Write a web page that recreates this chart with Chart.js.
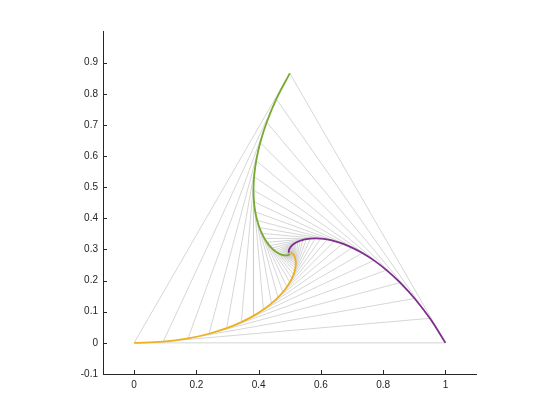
<!DOCTYPE html>
<html lang="en">
<head>
    <meta charset="UTF-8">
    <title>Pursuit curves</title>
    <script src="https://cdn.jsdelivr.net/npm/chart.js"></script>
    <style>
        body { margin: 0; background: #fff; }
        #grafico { display: block; }
    </style>
</head>
<body>
<canvas id="grafico" width="560" height="420"></canvas>
<script>
    // positions of the three bugs, one entry per gray triangle (every 5 degrees of turn)
    const orangeX = [0, 0.0934, 0.1731, 0.2406, 0.2973, 0.3445, 0.3834, 0.4153, 0.4411, 0.4617, 0.4779, 0.4905, 0.5000,
        0.5071, 0.5121, 0.5155, 0.5176, 0.5187, 0.5190, 0.5187, 0.5181, 0.5171, 0.5159, 0.5146, 0.5133, 0.5120,
        0.5107, 0.5094, 0.5083, 0.5072, 0.5062, 0.5053, 0.5045, 0.5038, 0.5032, 0.5026, 0.5022];
    const orangeY = [0, 0.0040, 0.0144, 0.0293, 0.0471, 0.0666, 0.0868, 0.1070, 0.1268, 0.1456, 0.1633, 0.1796, 0.1946,
        0.2081, 0.2202, 0.2309, 0.2404, 0.2486, 0.2558, 0.2619, 0.2672, 0.2716, 0.2753, 0.2784, 0.2810, 0.2831,
        0.2848, 0.2862, 0.2872, 0.2881, 0.2887, 0.2891, 0.2895, 0.2897, 0.2898, 0.2899, 0.2899];
    const purpleX = [1, 0.9499, 0.9010, 0.8544, 0.8106, 0.7701, 0.7331, 0.6997, 0.6697, 0.6431, 0.6197, 0.5992, 0.5815,
        0.5663, 0.5533, 0.5423, 0.5331, 0.5254, 0.5190, 0.5138, 0.5096, 0.5063, 0.5036, 0.5016, 0.5000, 0.4988,
        0.4980, 0.4975, 0.4971, 0.4970, 0.4969, 0.4969, 0.4971, 0.4972, 0.4974, 0.4976, 0.4978];
    const purpleY = [0, 0.0789, 0.1427, 0.1937, 0.2339, 0.2650, 0.2887, 0.3061, 0.3186, 0.3270, 0.3322, 0.3350, 0.3357,
        0.3351, 0.3334, 0.3310, 0.3281, 0.3249, 0.3216, 0.3183, 0.3151, 0.3120, 0.3091, 0.3065, 0.3040, 0.3018,
        0.2999, 0.2981, 0.2966, 0.2952, 0.2941, 0.2931, 0.2922, 0.2915, 0.2909, 0.2904, 0.2899];
    const greenX = [0.5, 0.4567, 0.4259, 0.4050, 0.3921, 0.3854, 0.3834, 0.3850, 0.3892, 0.3953, 0.4024, 0.4103, 0.4185,
        0.4267, 0.4346, 0.4422, 0.4494, 0.4560, 0.4620, 0.4674, 0.4723, 0.4767, 0.4805, 0.4838, 0.4867, 0.4892,
        0.4913, 0.4931, 0.4946, 0.4959, 0.4969, 0.4977, 0.4984, 0.4990, 0.4994, 0.4997, 0.5000];
    const greenY = [0.8660, 0.7832, 0.7089, 0.6431, 0.5851, 0.5344, 0.4906, 0.4529, 0.4207, 0.3934, 0.3705, 0.3515, 0.3357,
        0.3229, 0.3125, 0.3042, 0.2976, 0.2925, 0.2887, 0.2858, 0.2838, 0.2824, 0.2816, 0.2811, 0.2810, 0.2811,
        0.2814, 0.2818, 0.2822, 0.2828, 0.2833, 0.2839, 0.2844, 0.2849, 0.2853, 0.2858, 0.2862];

    const xTicks = [0, 0.2, 0.4, 0.6, 0.8, 1];
    const yTicks = [-0.1, 0, 0.1, 0.2, 0.3, 0.4, 0.5, 0.6, 0.7, 0.8, 0.9];

    const corEixo = '#262626';
    const fonte = { family: "'Liberation Sans', Arial, Helvetica, sans-serif", size: 10 };

    function pontos(xs, ys) {
        return xs.map((x, i) => ({ x: x, y: ys[i] }));
    }

    function curva(xs, ys, cor) {
        return {
            data: pontos(xs, ys),
            showLine: true,
            borderColor: cor,
            borderWidth: 1.8,
            pointRadius: 0,
            tension: 0.4,
            order: 0
        };
    }

    const datasets = [
        curva(orangeX, orangeY, '#EDB120'),
        curva(purpleX, purpleY, '#7E2F8E'),
        curva(greenX, greenY, '#77AC30')
    ];

    // gray triangles joining the bugs at the same instant
    for (let k = 0; k < orangeX.length; k++) {
        datasets.push({
            data: [
                { x: orangeX[k], y: orangeY[k] },
                { x: purpleX[k], y: purpleY[k] },
                { x: greenX[k], y: greenY[k] },
                { x: orangeX[k], y: orangeY[k] }
            ],
            showLine: true,
            borderColor: '#cbcbcb',
            borderWidth: 0.8,
            pointRadius: 0,
            tension: 0,
            order: 1
        });
    }

    // matlab style ticks pointing into the plot
    const ticksDentro = {
        id: 'ticksDentro',
        afterDraw(chart) {
            const { ctx, chartArea, scales } = chart;
            ctx.save();
            ctx.strokeStyle = corEixo;
            ctx.lineWidth = 1;
            ctx.beginPath();
            scales.x.ticks.forEach(t => {
                const px = Math.round(scales.x.getPixelForValue(t.value)) + 0.5;
                ctx.moveTo(px, chartArea.bottom);
                ctx.lineTo(px, chartArea.bottom - 4);
            });
            scales.y.ticks.forEach(t => {
                const py = Math.round(scales.y.getPixelForValue(t.value)) + 0.5;
                ctx.moveTo(chartArea.left, py);
                ctx.lineTo(chartArea.left + 4, py);
            });
            ctx.stroke();
            ctx.restore();
        }
    };

    new Chart(document.getElementById('grafico'), {
        type: 'scatter',
        data: { datasets: datasets },
        options: {
            responsive: false,
            animation: false,
            layout: { padding: { left: 73, right: 83.4, top: 31.6, bottom: 16 } },
            plugins: { legend: { display: false }, tooltip: { enabled: false } },
            scales: {
                x: {
                    type: 'linear',
                    min: -0.1,
                    max: 1.1,
                    afterBuildTicks: s => { s.ticks = xTicks.map(v => ({ value: v })); },
                    afterFit: s => { s.height = 30; },
                    grid: { display: true, drawOnChartArea: false, drawTicks: false },
                    border: { display: true, color: corEixo, width: 1 },
                    ticks: { color: corEixo, font: fonte, padding: 5, maxRotation: 0,
                        callback: v => String(Math.round(v * 10) / 10) }
                },
                y: {
                    type: 'linear',
                    min: -0.1,
                    max: 1.0,
                    afterBuildTicks: s => { s.ticks = yTicks.map(v => ({ value: v })); },
                    afterFit: s => { s.width = 30; },
                    grid: { display: true, drawOnChartArea: false, drawTicks: false },
                    border: { display: true, color: corEixo, width: 1 },
                    ticks: { color: corEixo, font: fonte, padding: 5,
                        callback: v => String(Math.round(v * 10) / 10) }
                }
            }
        },
        plugins: [ticksDentro]
    });
</script>
</body>
</html>
